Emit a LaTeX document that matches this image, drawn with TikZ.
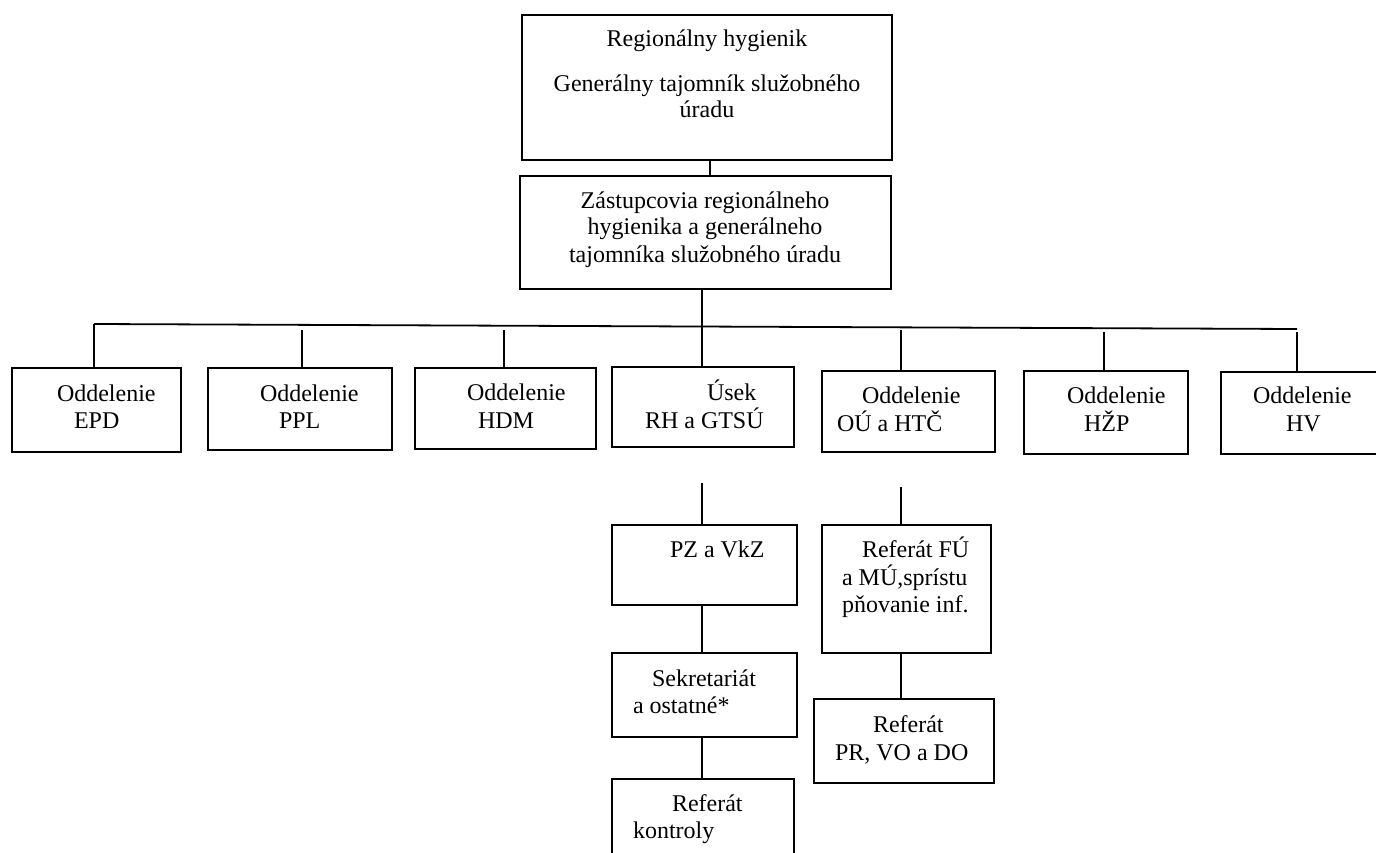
\documentclass[tikz,border=0pt]{standalone}
\usepackage{fontspec}
\setmainfont{Liberation Serif}
\begin{document}
\begin{tikzpicture}[x=1pt,y=-1pt,
  box/.style={draw, line width=1.8pt, inner sep=0pt, outer sep=0pt},
  lbl/.style={inner sep=0pt, outer sep=0pt, font=\fontsize{24}{26}\selectfont},
  conn/.style={line width=1.8pt}]
\useasboundingbox (0,0) rectangle (1376,853);
\fill[white] (0,0) rectangle (1376,853);
% boxes
\node[box, minimum width=370pt, minimum height=145pt] (top) at (707,87.5) {};
\node[box, minimum width=371pt, minimum height=113pt] (z) at (705.5,232.5) {};
\node[box, minimum width=169pt, minimum height=84pt] (epd) at (96.5,410) {};
\node[box, minimum width=184pt, minimum height=82pt] (ppl) at (300,409) {};
\node[box, minimum width=181pt, minimum height=81pt] (hdm) at (505.5,408.5) {};
\node[box, minimum width=182pt, minimum height=80pt] (usek) at (703,407) {};
\node[box, minimum width=173pt, minimum height=81pt] (ou) at (908.5,411.5) {};
\node[box, minimum width=164pt, minimum height=83pt] (hzp) at (1106,412.5) {};
\node[box, minimum width=157pt, minimum height=82pt] (hv) at (1299.5,413) {};
\node[box, minimum width=185pt, minimum height=80pt] (pz) at (704.5,565) {};
\node[box, minimum width=185pt, minimum height=84pt] (sek) at (704.5,695) {};
\node[box, minimum width=182pt, minimum height=83pt] (kon) at (703,820.5) {};
\node[box, minimum width=169pt, minimum height=128pt] (fu) at (906.5,589) {};
\node[box, minimum width=180pt, minimum height=84pt] (pr) at (904,741) {};
% connector coordinates
\coordinate (c1) at (710,0);
\coordinate (c2) at (702,0);
\coordinate (busL) at (94,324);
\coordinate (busR) at (1297,329);
\coordinate (vp) at (302,330);
\coordinate (vh) at (504,330);
\coordinate (vo) at (901,330);
\coordinate (vz) at (1104,332);
\coordinate (vv) at (1297,332);
\coordinate (u1) at (702,483);
\coordinate (o1) at (901,487);
% connectors
\draw[conn] (top.south -| c1) -- (z.north -| c1);
\draw[conn] (z.south -| c2) -- (usek.north -| c2);
\draw[conn] (busL) -- (busR);
\draw[conn] (busL) -- (busL |- epd.north);
\draw[conn] (vp) -- (vp |- ppl.north);
\draw[conn] (vh) -- (vh |- hdm.north);
\draw[conn] (vo) -- (vo |- ou.north);
\draw[conn] (vz) -- (vz |- hzp.north);
\draw[conn] (vv) -- (vv |- hv.north);
\draw[conn] (u1) -- (u1 |- pz.north);
\draw[conn] (pz.south -| u1) -- (sek.north -| u1);
\draw[conn] (sek.south -| u1) -- (kon.north -| u1);
\draw[conn] (o1) -- (o1 |- fu.north);
\draw[conn] (fu.south -| o1) -- (pr.north -| o1);
% texts
\node[lbl, anchor=base] (t1) at (707,47) {Regionálny hygienik};
\node[lbl, anchor=base] (t2) at (707,92) {Generálny tajomník služobného};
\node[lbl, anchor=base] (t3) at (707,118) {úradu};
\node[lbl, anchor=base] (t4) at (705,209) {Zástupcovia regionálneho};
\node[lbl, anchor=base] (t5) at (705,235) {hygienika a generálneho};
\node[lbl, anchor=base] (t6) at (705,262) {tajomníka služobného úradu};
\node[lbl, anchor=base west] (e1) at (57,401) {Oddelenie};
\node[lbl, anchor=base west] (e2) at (74,428) {EPD};
\node[lbl, anchor=base west] (p1) at (260,401) {Oddelenie};
\node[lbl, anchor=base west] (p2) at (279,428) {PPL};
\node[lbl, anchor=base west] (h1) at (467,400) {Oddelenie};
\node[lbl, anchor=base west] (h2) at (478,428) {HDM};
\node[lbl, anchor=base west] (s1) at (707,400) {Úsek};
\node[lbl, anchor=base west] (s2) at (645,428) {RH a GTSÚ};
\node[lbl, anchor=base west] (o1t) at (862,403) {Oddelenie};
\node[lbl, anchor=base west] (o2t) at (837,431) {OÚ a HTČ};
\node[lbl, anchor=base west] (z1) at (1067,403) {Oddelenie};
\node[lbl, anchor=base west] (z2) at (1084,431) {HŽP};
\node[lbl, anchor=base west] (v1) at (1253,403) {Oddelenie};
\node[lbl, anchor=base west] (v2) at (1286,431) {HV};
\node[lbl, anchor=base west] (pzt) at (670,557) {PZ a VkZ};
\node[lbl, anchor=base west] (k1) at (652,686) {Sekretariát};
\node[lbl, anchor=base west] (k2) at (633,713) {a ostatné*};
\node[lbl, anchor=base west] (r1) at (672,811) {Referát};
\node[lbl, anchor=base west] (r2) at (633,838) {kontroly};
\node[lbl, anchor=base west] (f1) at (862,557) {Referát FÚ};
\node[lbl, anchor=base west] (f2) at (842,585) {a MÚ,sprístu};
\node[lbl, anchor=base west] (f3) at (842,612) {pňovanie inf.};
\node[lbl, anchor=base west] (q1) at (873,732) {Referát};
\node[lbl, anchor=base west] (q2) at (835,760) {PR, VO a DO};
\end{tikzpicture}
\end{document}
